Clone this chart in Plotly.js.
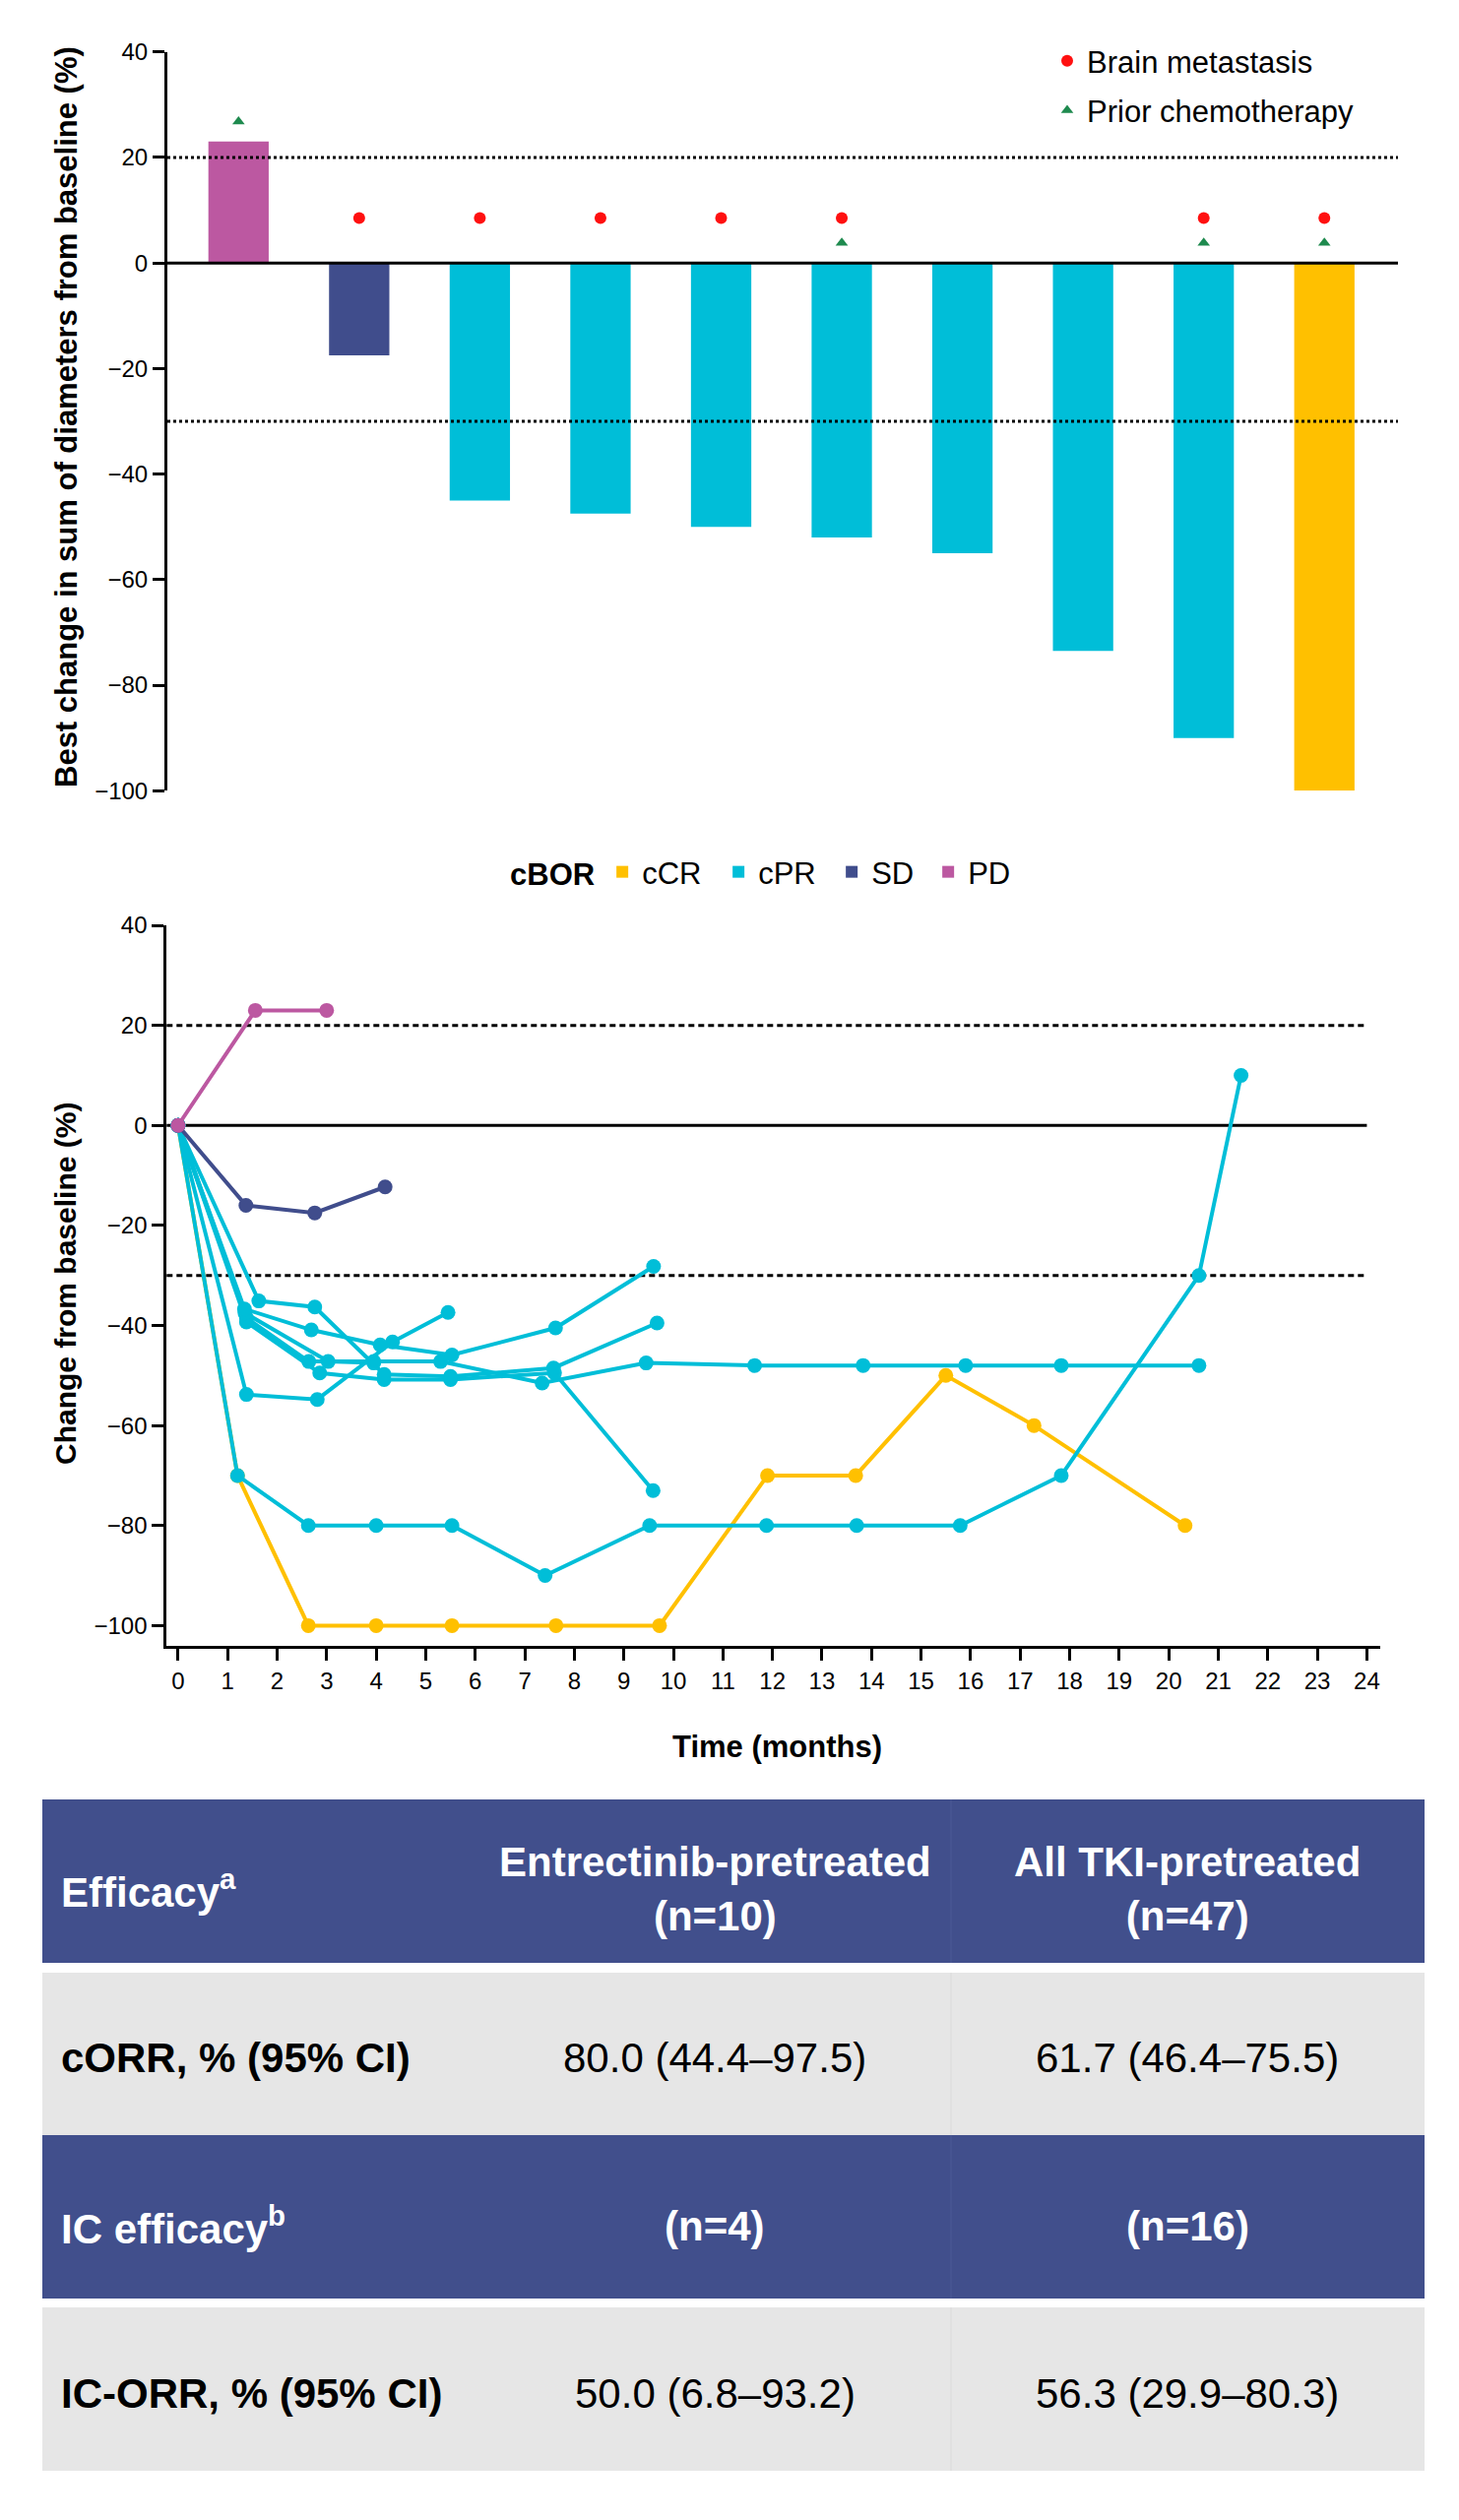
<!DOCTYPE html>
<html>
<head>
<meta charset="utf-8">
<script src="https://cdn.plot.ly/plotly-3.0.1.min.js"></script>
<style>
  html, body { margin: 0; padding: 0; background: #ffffff; }
  #chart { width: 1482px; height: 2560px; }
</style>
</head>
<body>
<div id="chart"></div>
<script>
// ---------------- DATA ----------------
// Waterfall (best change per patient)
const patientIds   = ['1','2','3','4','5','6','7','8','9','10'];
const bestChange   = [23, -17.5, -45, -47.5, -50, -52, -55, -73.5, -90, -100];
const bestCBOR     = ['PD','SD','cPR','cPR','cPR','cPR','cPR','cPR','cPR','cCR'];
const brainMet     = [0, 1, 1, 1, 1, 1, 0, 0, 1, 1];
const priorChemo   = [1, 0, 0, 0, 0, 1, 0, 0, 1, 1];
const cborCategories = ['cCR', 'cPR', 'SD', 'PD'];

// Spider plot (time in months, change from baseline %)
const crMonths  = [0, 1.2, 2.63, 4.0, 5.53, 7.63, 9.72, 11.9, 13.68, 15.5, 17.28, 20.33];
const crValues  = [0, -70, -100, -100, -100, -100, -100, -70, -70, -50, -60, -80];
const prAMonths = [0, 1.34, 2.69, 4.08, 5.53, 7.62, 9.6];
const prAValues = [0, -36.7, -40.9, -43.9, -45.9, -40.5, -28.2];
const prBMonths = [0, 1.38, 2.81, 4.33, 5.45];
const prBValues = [0, -53.8, -54.8, -43.3, -37.4];
const prCMonths = [0, 1.2, 2.63, 4.0, 5.53, 7.41, 9.52, 11.88, 13.7, 15.79, 17.83, 20.61, 21.46];
const prCValues = [0, -70, -80, -80, -80, -90, -80, -80, -80, -80, -70, -30, 10];
const prDMonths = [0, 1.38, 2.86, 4.16, 5.5, 7.6, 9.59];
const prDValues = [0, -39.3, -49.5, -50.8, -50.8, -49.5, -73];
const prEMonths = [0, 1.38, 2.64, 3.95, 5.3, 7.35, 9.45, 11.64, 13.83, 15.9, 17.83, 20.61];
const prEValues = [0, -38.5, -47.2, -47.2, -47.2, -51.5, -47.5, -48, -48, -48, -48, -48];
const prFMonths = [0, 1.63, 2.76, 4.16, 5.5, 7.58, 9.67];
const prFValues = [0, -35.1, -36.3, -49.8, -50.2, -48.5, -39.5];
const prGMonths = [0, 1.35, 3.03, 3.95];
const prGValues = [0, -37.5, -47.2, -47.5];
const sdMonths  = [0, 1.37, 2.76, 4.18];
const sdValues  = [0, -16, -17.5, -12.3];
const pdMonths  = [0, 1.56, 3.0];
const pdValues  = [0, 23, 23];

const yTicks      = [40, 20, 0, -20, -40, -60, -80, -100];
const monthTicks  = [0,1,2,3,4,5,6,7,8,9,10,11,12,13,14,15,16,17,18,19,20,21,22,23,24];
const thresholds  = [20, -30];

// Table text
const headerRow   = ['Efficacy<sup>a</sup>', 'Entrectinib-pretreated<br>(n=10)', 'All TKI-pretreated<br>(n=47)'];
const corrRow     = ['cORR, % (95% CI)', '80.0 (44.4–97.5)', '61.7 (46.4–75.5)'];
const icHeaderRow = ['IC efficacy<sup>b</sup>', '(n=4)', '(n=16)'];
const icOrrRow    = ['IC-ORR, % (95% CI)', '50.0 (6.8–93.2)', '56.3 (29.9–80.3)'];

// ---------------- STYLE ----------------
const W = 1482, H = 2560;
const FONT = 'Liberation Sans, Arial, Helvetica, sans-serif';
const colors = { cCR: '#FFC000', cPR: '#00BED8', SD: '#404D8C', PD: '#BC58A1' };
const legendWidths = { cCR: 73, cPR: 70, SD: 53, PD: 60 };
const RED = '#FF1010', GREEN = '#1E8A4E';
const TBL_BLUE = '#414F8C', TBL_GRAY = '#E6E6E6';
const px = v => v / W;
const py = v => 1 - v / H;

// ---------------- TRACES ----------------
const traces = [];

// bars, one trace per cBOR category
cborCategories.forEach(cat => {
  const idx = bestCBOR.map((c, i) => c === cat ? i : -1).filter(i => i >= 0);
  traces.push({
    type: 'bar', name: cat, legend: 'legend2', legendwidth: legendWidths[cat],
    x: idx.map(i => patientIds[i]), y: idx.map(i => bestChange[i]),
    width: 0.5, marker: { color: colors[cat], line: { width: 0 } },
    xaxis: 'x', yaxis: 'y', hoverinfo: 'skip'
  });
});

const BRAIN_OFFSET = 8.5, CHEMO_OFFSET = 3.8;
const bIdx = brainMet.map((f, i) => f ? i : -1).filter(i => i >= 0);
const cIdx = priorChemo.map((f, i) => f ? i : -1).filter(i => i >= 0);
traces.push({
  type: 'scatter', mode: 'markers', name: 'Brain metastasis', legend: 'legend', legendgroup: 'g1',
  x: bIdx.map(i => patientIds[i]), y: bIdx.map(i => Math.max(bestChange[i], 0) + BRAIN_OFFSET),
  marker: { symbol: 'circle', size: 12, color: RED }, xaxis: 'x', yaxis: 'y', hoverinfo: 'skip'
});
traces.push({
  type: 'scatter', mode: 'markers', name: 'Prior chemotherapy', legend: 'legend', legendgroup: 'g2',
  x: cIdx.map(i => patientIds[i]), y: cIdx.map(i => Math.max(bestChange[i], 0) + CHEMO_OFFSET),
  marker: { symbol: 'triangle-up', size: 11, color: GREEN }, xaxis: 'x', yaxis: 'y', hoverinfo: 'skip'
});

// spider lines
function line(xs, ys, color) {
  return {
    type: 'scatter', mode: 'lines+markers', x: xs, y: ys, showlegend: false,
    line: { color: color, width: 4 }, marker: { color: color, size: 15, symbol: 'circle' },
    xaxis: 'x2', yaxis: 'y2', hoverinfo: 'skip'
  };
}
traces.push(line(crMonths, crValues, colors.cCR));
traces.push(line(prCMonths, prCValues, colors.cPR));
traces.push(line(prEMonths, prEValues, colors.cPR));
traces.push(line(prDMonths, prDValues, colors.cPR));
traces.push(line(prFMonths, prFValues, colors.cPR));
traces.push(line(prGMonths, prGValues, colors.cPR));
traces.push(line(prBMonths, prBValues, colors.cPR));
traces.push(line(prAMonths, prAValues, colors.cPR));
traces.push(line(sdMonths, sdValues, colors.SD));
traces.push(line(pdMonths, pdValues, colors.PD));

// ---------------- SHAPES ----------------
const shapes = [];
// top chart reference lines
thresholds.forEach(t => shapes.push({
  type: 'line', xref: 'x domain', yref: 'y', x0: 0, x1: 1, y0: t, y1: t,
  line: { color: '#000', width: 3, dash: '3px,3px' }, layer: 'above'
}));
shapes.push({ type: 'line', xref: 'x domain', yref: 'y', x0: 0, x1: 1, y0: 0, y1: 0,
  line: { color: '#000', width: 3 }, layer: 'above' });
// bottom chart reference lines
thresholds.forEach(t => shapes.push({
  type: 'line', xref: 'x2 domain', yref: 'y2', x0: 0, x1: (24 + 0.23) / 24.5, y0: t, y1: t,
  line: { color: '#000', width: 3, dash: '6px,4px' }, layer: 'below'
}));
shapes.push({ type: 'line', xref: 'x2 domain', yref: 'y2', x0: 0, x1: (24 + 0.23) / 24.5, y0: 0, y1: 0,
  line: { color: '#000', width: 3 }, layer: 'below' });

// table rows
const rowBands = [[1828, 1994, TBL_BLUE], [2004, 2169, TBL_GRAY], [2169, 2335, TBL_BLUE], [2344, 2510, TBL_GRAY]];
rowBands.forEach(b => {
  shapes.push({ type: 'rect', xref: 'paper', yref: 'paper', x0: px(43), x1: px(1447), y0: py(b[1]), y1: py(b[0]),
    fillcolor: b[2], line: { width: 0 }, layer: 'below' });
  shapes.push({ type: 'line', xref: 'paper', yref: 'paper', x0: px(966), x1: px(966), y0: py(b[1]), y1: py(b[0]),
    line: { width: 1, color: b[2] === TBL_BLUE ? '#4C5A96' : '#DADADA' }, layer: 'below' });
});

// ---------------- ANNOTATIONS ----------------
const annotations = [];
annotations.push({ xref: 'paper', yref: 'paper', x: px(67), y: py(424), textangle: -90, showarrow: false,
  text: '<b>Best change in sum of diameters from baseline (%)</b>', font: { family: FONT, size: 31, color: '#000' },
  xanchor: 'center', yanchor: 'middle' });
annotations.push({ xref: 'paper', yref: 'paper', x: px(66), y: py(1304), textangle: -90, showarrow: false,
  text: '<b>Change from baseline (%)</b>', font: { family: FONT, size: 30, color: '#000' },
  xanchor: 'center', yanchor: 'middle' });
annotations.push({ xref: 'paper', yref: 'paper', x: px(789), y: py(1774), showarrow: false,
  text: '<b>Time (months)</b>', font: { family: FONT, size: 31, color: '#000' },
  xanchor: 'center', yanchor: 'middle' });

const colX = [60, 726, 1206];
const rowsText = [headerRow, corrRow, icHeaderRow, icOrrRow];
const rowTextY = [1919, 2090, 2261, 2431];
rowsText.forEach((row, r) => {
  const isHeader = (r % 2 === 0);
  row.forEach((txt, c) => {
    const bold = isHeader || c === 0;
    annotations.push({
      xref: 'paper', yref: 'paper', x: px(colX[c]), y: py(rowTextY[r]), showarrow: false,
      text: bold ? '<b>' + txt + '</b>' : txt,
      font: { family: FONT, size: 42, color: isHeader ? '#FFFFFF' : '#000000' },
      xanchor: c === 0 ? 'left' : 'center', yanchor: 'middle', align: c === 0 ? 'left' : 'center'
    });
  });
});

// ---------------- LAYOUT ----------------
const axisCommon = {
  showgrid: false, zeroline: false, showline: true, linecolor: '#000', linewidth: 3,
  ticks: 'outside', ticklen: 12, tickwidth: 3, tickcolor: '#000',
  tickfont: { family: FONT, size: 24, color: '#000' }, fixedrange: true
};

const layout = {
  width: W, height: H,
  margin: { l: 0, r: 0, t: 0, b: 0, pad: 0 },
  paper_bgcolor: '#FFFFFF', plot_bgcolor: 'rgba(0,0,0,0)',
  font: { family: FONT, color: '#000' },
  barmode: 'overlay',
  xaxis: {
    domain: [px(170), px(1420)], range: [-0.59, 9.61], type: 'category',
    categoryorder: 'array', categoryarray: patientIds,
    showticklabels: false, ticks: '', showline: false, showgrid: false, zeroline: false, fixedrange: true,
    anchor: 'y'
  },
  yaxis: Object.assign({}, axisCommon, {
    domain: [py(803.3), py(52.7)], range: [-100, 40], tickvals: yTicks, anchor: 'x'
  }),
  xaxis2: Object.assign({}, axisCommon, {
    domain: [px(169.3), px(1402)], range: [-0.23, 24.27], tickvals: monthTicks, anchor: 'y2'
  }),
  yaxis2: Object.assign({}, axisCommon, {
    domain: [py(1671.7), py(940)], range: [-104, 40], tickvals: yTicks, anchor: 'x2'
  }),
  showlegend: true,
  legend: {
    x: px(1064), xanchor: 'left', y: py(35), yanchor: 'top',
    font: { family: FONT, size: 31, color: '#000' }, tracegroupgap: 7,
    bgcolor: 'rgba(0,0,0,0)', borderwidth: 0, orientation: 'v'
  },
  legend2: {
    x: px(516), xanchor: 'left', y: py(886), yanchor: 'middle', orientation: 'h',
    title: { text: '<b>cBOR</b>', side: 'left', font: { family: FONT, size: 31, color: '#000' } },
    font: { family: FONT, size: 31, color: '#000' },
    bgcolor: 'rgba(0,0,0,0)', borderwidth: 0, traceorder: 'normal'
  },
  shapes: shapes,
  annotations: annotations
};

Plotly.newPlot('chart', traces, layout, { displayModeBar: false, staticPlot: true });
</script>
</body>
</html>
